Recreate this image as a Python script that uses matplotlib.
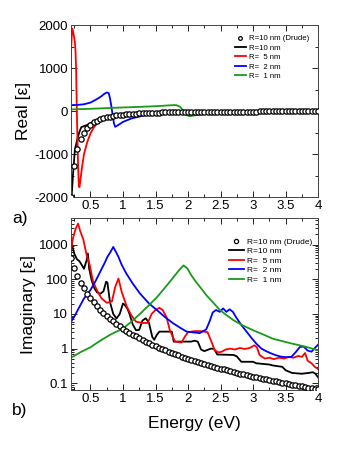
import numpy as np
import matplotlib
matplotlib.use("Agg")
import matplotlib.pyplot as plt
from matplotlib.ticker import MultipleLocator, FuncFormatter, LogLocator, NullFormatter

plt.rcParams['font.family'] = ['Liberation Sans', 'DejaVu Sans']
plt.rcParams['axes.unicode_minus'] = False

# Drude curve (R=10 nm)
e_drude = [0.20, 0.25, 0.30, 0.35, 0.40, 0.45, 0.50, 0.55, 0.60, 0.65,
           0.70, 0.75, 0.80, 0.85, 0.90, 0.95, 1.00, 1.05, 1.10, 1.15,
           1.20, 1.25, 1.30, 1.35, 1.40, 1.45, 1.50, 1.55, 1.60, 1.65,
           1.70, 1.75, 1.80, 1.85, 1.90, 1.95, 2.00, 2.05, 2.10, 2.15,
           2.20, 2.25, 2.30, 2.35, 2.40, 2.45, 2.50, 2.55, 2.60, 2.65,
           2.70, 2.75, 2.80, 2.85, 2.90, 2.95, 3.00, 3.05, 3.10, 3.15,
           3.20, 3.25, 3.30, 3.35, 3.40, 3.45, 3.50, 3.55, 3.60, 3.65,
           3.70, 3.75, 3.80, 3.85, 3.90, 3.95, 4.00]
drude_real = [-2000, -1280, -889, -653, -500, -395, -320, -264, -222, -189,
              -163, -142, -125, -111, -99, -89, -80, -73, -66, -60,
              -56, -51, -47, -44, -41, -38, -36, -33, -31, -29,
              -28, -26, -25, -23, -22, -21, -20, -19, -18, -17,
              -17, -16, -15, -14, -14, -13, -13, -12, -12, -11,
              -11, -11, -10, -10, -10, -9, -9, -9, -8, -8,
              -8, -8, -7, -7, -7, -7, -7, -6, -6, -6,
              -6, -6, -6, -5, -5, -5, -5]
drude_imag = [404, 212, 125, 79.7, 54.2, 38.5, 28.4, 21.5, 16.7, 13.2,
              10.7, 8.76, 7.26, 6.09, 5.16, 4.41, 3.80, 3.29, 2.88, 2.53,
              2.25, 1.99, 1.77, 1.59, 1.44, 1.30, 1.18, 1.07, 0.97, 0.89,
              0.81, 0.75, 0.69, 0.64, 0.59, 0.55, 0.51, 0.48, 0.44, 0.41,
              0.386, 0.362, 0.340, 0.319, 0.300, 0.283, 0.267, 0.252, 0.238, 0.225,
              0.213, 0.202, 0.192, 0.182, 0.173, 0.165, 0.157, 0.150, 0.143, 0.136,
              0.130, 0.124, 0.119, 0.114, 0.109, 0.105, 0.100, 0.096, 0.092, 0.089,
              0.085, 0.082, 0.079, 0.076, 0.073, 0.071, 0.068]

# real part
e_r10 = [0.205, 0.23, 0.26, 0.30, 0.33, 0.36, 0.40, 0.45, 0.50, 0.60, 0.70, 0.80,
         0.90, 1.00, 1.10, 1.20, 1.50, 2.00, 2.50, 3.00, 3.50, 4.00]
re_r10 = [-2100, -1500, -900, -640, -480, -370, -350, -320, -280, -220, -170, -130,
          -100, -85, -72, -62, -40, -22, -14, -10, -7, -5]
e_r5 = [0.20, 0.21, 0.22, 0.24, 0.26, 0.27, 0.28, 0.29, 0.30, 0.31, 0.32, 0.33,
        0.35, 0.37, 0.40, 0.45, 0.50, 0.55, 0.62, 0.70, 0.77, 0.85, 0.92, 0.97,
        1.02, 1.08, 1.13, 1.20, 1.35, 1.50, 1.75, 2.00, 2.50, 3.00, 3.50, 4.00]
re_r5 = [1340, 1700, 1920, 1800, 1600, 1400, 900, 0, -700, -1300, -1700, -1770,
         -1550, -1300, -1000, -720, -520, -380, -250, -180, -130, -95, -75, -80,
         -110, -120, -115, -90, -60, -40, -25, -18, -10, -8, -6, -5]
e_r2 = [0.20, 0.30, 0.40, 0.50, 0.57, 0.62, 0.67, 0.71, 0.75, 0.78, 0.80, 0.82,
        0.84, 0.86, 0.88, 0.92, 1.00, 1.13, 1.34, 1.60, 2.00, 2.50, 3.00, 4.00]
re_r2 = [140, 145, 160, 200, 256, 300, 350, 400, 435, 420, 300, 120,
         -80, -280, -365, -330, -250, -170, -93, -60, -30, -15, -10, -5]
e_r1 = [0.20, 0.50, 0.85, 1.26, 1.50, 1.77, 1.82, 1.88, 1.92, 1.95, 2.00, 2.03,
        2.10, 2.18, 2.34, 2.60, 3.00, 3.50, 4.00]
re_r1 = [40, 55, 77, 100, 115, 140, 140, 100, 20, -55, -105, -116,
         -100, -77, -40, -25, -15, -10, -8]

# imaginary part
ei_r10 = [0.20, 0.22, 0.25, 0.29, 0.33, 0.37, 0.40, 0.44, 0.46, 0.48, 0.52, 0.56,
          0.60, 0.65, 0.70, 0.74, 0.76, 0.80, 0.85, 0.90, 0.95, 1.00, 1.03, 1.07,
          1.10, 1.15, 1.20, 1.25, 1.30, 1.35, 1.40, 1.45, 1.48, 1.52, 1.56, 1.75,
          1.78, 2.05, 2.10, 2.15, 2.20, 2.25, 2.35, 2.40, 2.45, 2.70, 2.75, 2.82,
          3.00, 3.05, 3.25, 3.30, 3.45, 3.50, 3.60, 3.75, 3.85, 3.92, 3.96, 4.00]
im_r10 = [1660, 900, 550, 380, 330, 250, 200, 350, 550, 200, 90, 55,
          42, 38, 45, 85, 80, 22, 10, 7.4, 10, 20, 18, 14,
          10, 5, 3.4, 3.5, 6.5, 7.5, 5.5, 2.2, 1.8, 2.5, 3.1, 3.1,
          1.6, 1.6, 1.7, 1.6, 0.95, 0.85, 1.0, 1.0, 0.68, 0.66, 0.60, 0.42,
          0.42, 0.38, 0.35, 0.33, 0.30, 0.24, 0.20, 0.19, 0.20, 0.21, 0.19, 0.15]
ei_r5 = [0.20, 0.23, 0.27, 0.31, 0.34, 0.39, 0.44, 0.49, 0.54, 0.60, 0.67, 0.75,
         0.83, 0.88, 0.93, 0.98, 1.06, 1.13, 1.20, 1.30, 1.38, 1.44, 1.50, 1.56,
         1.61, 1.67, 1.72, 1.80, 1.90, 1.95, 2.00, 2.10, 2.20, 2.30, 2.36, 2.41,
         2.47, 2.52, 2.58, 2.65, 2.72, 2.80, 2.87, 2.95, 3.02, 3.06, 3.10, 3.18,
         3.25, 3.32, 3.40, 3.48, 3.55, 3.62, 3.70, 3.75, 3.80, 3.84, 3.90, 3.95, 4.00]
im_r5 = [690, 1500, 2800, 4000, 2500, 1400, 500, 250, 85, 48, 28, 21,
         23, 60, 105, 43, 16, 9, 6, 5.5, 5.5, 10, 13, 15,
         13, 8, 3.4, 1.6, 1.5, 2.2, 3.0, 3.2, 3.2, 3.0, 1.6, 0.9,
         0.78, 0.82, 0.95, 1.0, 0.95, 1.05, 0.98, 1.05, 1.25, 1.1, 0.66, 0.52,
         0.55, 0.50, 0.55, 0.52, 0.58, 0.55, 0.62, 0.58, 0.75, 0.45, 0.38, 0.30, 0.26]
ei_r2 = [0.20, 0.26, 0.33, 0.40, 0.50, 0.58, 0.66, 0.72, 0.76, 0.81, 0.85, 0.89,
         0.93, 0.98, 1.05, 1.15, 1.26, 1.40, 1.52, 1.65, 1.77, 1.88, 1.98, 2.18,
         2.28, 2.33, 2.38, 2.43, 2.49, 2.54, 2.59, 2.64, 2.69, 2.74, 2.82, 2.98,
         3.05, 3.13, 3.20, 3.28, 3.35, 3.43, 3.50, 3.59, 3.66, 3.72, 3.78, 3.84,
         3.90, 3.95, 4.00]
im_r2 = [5.9, 9, 16, 28, 49, 90, 180, 300, 440, 620, 850, 620,
         440, 260, 147, 75, 39, 20, 13, 8, 5.4, 4, 3.1, 2.8,
         3.6, 6, 11, 13, 11.5, 14.5, 11.5, 13.6, 11.5, 8, 4.8, 2.0,
         1.4, 1.0, 0.85, 0.73, 0.65, 0.59, 0.57, 0.58, 0.81, 1.12, 1.15, 0.88,
         0.82, 1.05, 1.3]
ei_r1 = [0.20, 0.35, 0.50, 0.65, 0.80, 0.90, 1.00, 1.13, 1.26, 1.40, 1.52, 1.62,
         1.72, 1.80, 1.86, 1.93, 1.99, 2.05, 2.12, 2.20, 2.28, 2.38, 2.49, 2.60,
         2.70, 2.85, 3.00, 3.15, 3.30, 3.45, 3.60, 3.80, 4.00]
im_r1 = [0.55, 0.8, 1.1, 1.7, 2.5, 3.1, 3.8, 6, 10, 18, 30, 50,
         85, 130, 180, 250, 205, 130, 85, 55, 35, 22, 13, 9,
         6.6, 4.6, 3.4, 2.6, 1.95, 1.65, 1.4, 1.15, 0.9]

labels = ['R=10 nm (Drude)', 'R=10 nm', 'R=  5 nm', 'R=  2 nm', 'R=  1 nm']
green = '#1a9a1a'

fig = plt.figure(figsize=(3.38, 4.5), dpi=100)
ax1 = fig.add_axes([0.210, 0.562, 0.731, 0.382])
ax2 = fig.add_axes([0.210, 0.133, 0.731, 0.382])

lw = 1.3
ms = 3.8

# top: real part
ax1.plot(e_drude, drude_real, 'o', ms=ms, mfc='white', mec='black', mew=0.9,
         label=labels[0], zorder=4)
ax1.plot(e_r10, re_r10, color='black', lw=lw, label=labels[1])
ax1.plot(e_r5, re_r5, color='red', lw=lw, label=labels[2])
ax1.plot(e_r2, re_r2, color='blue', lw=lw, label=labels[3])
ax1.plot(e_r1, re_r1, color=green, lw=lw, label=labels[4])
ax1.set_xlim(0.2, 4.0)
ax1.set_ylim(-2000, 2000)
ax1.yaxis.set_major_locator(MultipleLocator(1000))
ax1.yaxis.set_minor_locator(MultipleLocator(500))
ax1.set_ylabel('Real [ε]', fontsize=12.5, labelpad=2)

# bottom: imaginary part
ax2.plot(e_drude, drude_imag, 'o', ms=ms, mfc='white', mec='black', mew=0.9,
         label=labels[0], zorder=4)
ax2.plot(ei_r10, im_r10, color='black', lw=lw, label=labels[1])
ax2.plot(ei_r5, im_r5, color='red', lw=lw, label=labels[2])
ax2.plot(ei_r2, im_r2, color='blue', lw=lw, label=labels[3])
ax2.plot(ei_r1, im_r1, color=green, lw=lw, label=labels[4])
ax2.set_yscale('log')
ax2.set_xlim(0.2, 4.0)
ax2.set_ylim(0.064, 5700)
ax2.yaxis.set_major_locator(LogLocator(base=10, numticks=10))
ax2.yaxis.set_minor_locator(LogLocator(base=10, subs=np.arange(2, 10), numticks=20))
ax2.yaxis.set_minor_formatter(NullFormatter())
ax2.yaxis.set_major_formatter(FuncFormatter(lambda v, p: '{:g}'.format(v)))
ax2.set_ylabel('Imaginary [ε]', fontsize=12.5, labelpad=2)
ax2.set_xlabel('Energy (eV)', fontsize=12.5, labelpad=8)

for ax in (ax1, ax2):
    ax.xaxis.set_major_locator(MultipleLocator(0.5))
    ax.xaxis.set_minor_locator(MultipleLocator(0.25))
    ax.xaxis.set_major_formatter(FuncFormatter(lambda v, p: '{:g}'.format(v)))
    ax.tick_params(which='both', direction='in', top=True, right=True,
                   labelsize=9.5, pad=2)
    ax.tick_params(which='major', length=4, width=0.6)
    ax.tick_params(which='minor', length=2, width=0.6)
    for s in ax.spines.values():
        s.set_linewidth(0.7)
        s.set_color('#444444')

ax1.legend(loc='upper right', bbox_to_anchor=(0.985, 0.975), frameon=False,
           fontsize=5.6, handlelength=1.4, handletextpad=0.4, labelspacing=0.25,
           borderpad=0.2, markerscale=0.7)
ax2.legend(loc='upper right', bbox_to_anchor=(1.0, 0.92), frameon=False,
           fontsize=6.0, handlelength=1.8, handletextpad=0.4, labelspacing=0.2,
           borderpad=0.2, markerscale=0.8)

fig.text(0.059, 1 - 218 / 450, 'a)', fontsize=12.5, ha='center', va='center')
fig.text(0.059, 1 - 410 / 450, 'b)', fontsize=12.5, ha='center', va='center')

fig.savefig('out.png', dpi=100)
